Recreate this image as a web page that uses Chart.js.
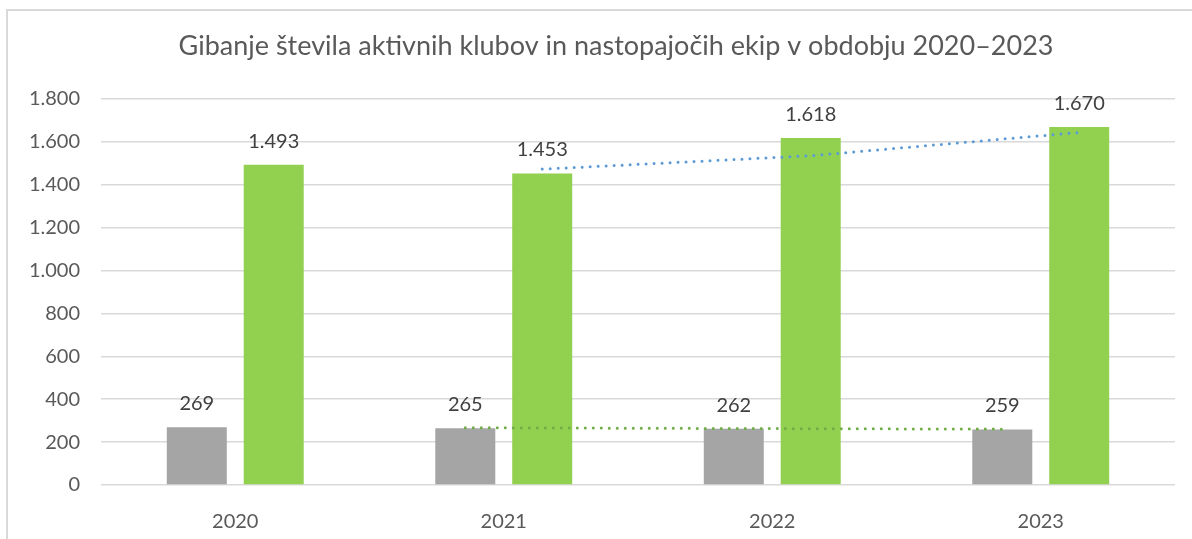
<!DOCTYPE html>
<html>
<head>
<meta charset="utf-8">
<script src="https://cdn.jsdelivr.net/npm/chart.js@4.4.1/dist/chart.umd.min.js"></script>
<style>
  html, body { margin: 0; padding: 0; background: #fff; overflow: hidden; }
  #frame { position: absolute; left: 6px; top: 9px; width: 1400px; height: 700px; border: 2px solid #d9d9d9; }
  #wrap { position: absolute; left: 0; top: 0; width: 1192px; height: 539px; }
</style>
</head>
<body>
<div id="frame"></div>
<div id="wrap"><canvas id="myChart"></canvas></div>
<script>
// data
const titleText = 'Gibanje števila aktivnih klubov in nastopajočih ekip v obdobju 2020–2023';
const years = ['2020', '2021', '2022', '2023'];
const clubs = [269, 265, 262, 259];
const teams = [1493, 1453, 1618, 1670];
const yMax = 1800;
const yStep = 200;
const trendPeriod = 2;

// thousands separator like "1.493"
const fmt = v => String(v).replace(/\B(?=(\d{3})+(?!\d))/g, '.');

// moving average trendline (Excel style), first point at index period-1
function movingAvg(values) {
  const out = [];
  for (let i = trendPeriod - 1; i < values.length; i++) {
    let s = 0;
    for (let k = 0; k < trendPeriod; k++) s += values[i - k];
    out.push({ i: i, v: s / trendPeriod });
  }
  return out;
}

const FONT = 'Lato, "Open Sans", sans-serif';

// dotted trendlines, anchored on the bars of their own series
const trendLines = {
  id: 'trendLines',
  afterDatasetsDraw(chart) {
    const ctx = chart.ctx;
    const y = chart.scales.y;
    ctx.save();
    ctx.lineWidth = 3;
    ctx.lineCap = 'round';
    ctx.setLineDash([0, 8]);
    chart.data.datasets.forEach((ds, di) => {
      const bars = chart.getDatasetMeta(di).data;
      const pts = movingAvg(ds.data);
      ctx.strokeStyle = ds.trendColor;
      ctx.beginPath();
      pts.forEach((p, k) => {
        const px = bars[p.i].x, py = y.getPixelForValue(p.v);
        if (k === 0) ctx.moveTo(px, py); else ctx.lineTo(px, py);
      });
      ctx.stroke();
    });
    ctx.restore();
  }
};

const barLabels = {
  id: 'barLabels',
  afterDatasetsDraw(chart) {
    const ctx = chart.ctx;
    ctx.save();
    ctx.font = '20px ' + FONT;
    ctx.fillStyle = '#404040';
    ctx.textAlign = 'center';
    ctx.textBaseline = 'alphabetic';
    chart.data.datasets.forEach((ds, i) => {
      chart.getDatasetMeta(i).data.forEach((bar, j) => {
        ctx.fillText(fmt(ds.data[j]), bar.x, bar.y - 17);
      });
    });
    ctx.restore();
  }
};

const chartTitle = {
  id: 'chartTitle',
  afterDraw(chart) {
    const ctx = chart.ctx;
    ctx.save();
    ctx.font = '27px ' + FONT;
    ctx.fillStyle = '#595959';
    ctx.textAlign = 'center';
    ctx.textBaseline = 'middle';
    ctx.fillText(titleText, 616, 46);
    ctx.restore();
  }
};

const chart = new Chart(document.getElementById('myChart'), {
  type: 'bar',
  data: {
    labels: years,
    datasets: [
      {
        label: 'Aktivni klubi',
        data: clubs,
        backgroundColor: '#a5a5a5',
        trendColor: '#70ad47'
      },
      {
        label: 'Nastopajoče ekipe',
        data: teams,
        backgroundColor: '#92d050',
        trendColor: '#5b9bd5'
      }
    ]
  },
  options: {
    responsive: true,
    maintainAspectRatio: false,
    animation: false,
    categoryPercentage: 0.573,
    barPercentage: 0.78,
    layout: { padding: { top: 99, right: 17, bottom: 0, left: 0 } },
    plugins: {
      legend: { display: false },
      title: { display: false },
      tooltip: { enabled: false }
    },
    scales: {
      x: {
        grid: { display: false },
        border: { display: false },
        ticks: { color: '#595959', font: { family: FONT, size: 20 }, padding: 17 },
        afterFit(scale) { scale.height = 54; }
      },
      y: {
        min: 0,
        max: yMax,
        grid: { color: '#d9d9d9', lineWidth: 1.5, drawTicks: false },
        border: { display: false },
        ticks: {
          stepSize: yStep,
          padding: 21,
          color: '#595959',
          font: { family: FONT, size: 20 },
          callback: v => fmt(v)
        },
        afterFit(scale) { scale.width = 101; }
      }
    }
  },
  plugins: [trendLines, barLabels, chartTitle]
});
</script>
</body>
</html>
